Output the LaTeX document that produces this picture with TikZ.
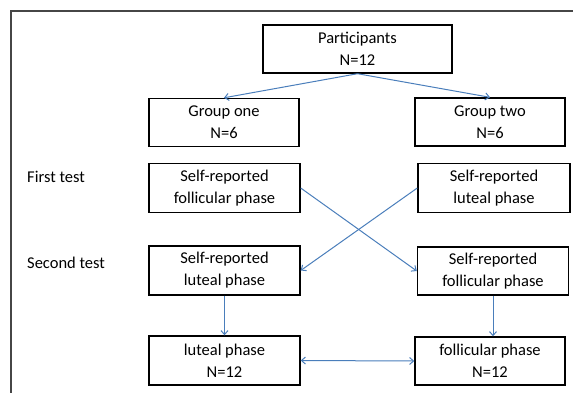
\documentclass[tikz,border=0pt]{standalone}
\usepackage{fontspec}
\setmainfont{Carlito}
\usetikzlibrary{arrows.meta}
\begin{document}
\begin{tikzpicture}[x=1pt,y=-1pt,
  box/.style={draw=black,line width=1.4pt,align=center,inner sep=0pt,
    font=\fontsize{16.5}{22}\selectfont},
  lbl/.style={anchor=west,inner sep=0pt,font=\fontsize{16.5}{22}\selectfont},
  conn/.style={draw={rgb,255:red,74;green,126;blue,187},line width=1pt,
    -{Straight Barb[length=4pt,width=7pt]}},
  dconn/.style={draw={rgb,255:red,74;green,126;blue,187},line width=1pt,
    {Straight Barb[length=4pt,width=7pt]}-{Straight Barb[length=4pt,width=7pt]}}]
\useasboundingbox (0,0) rectangle (573,392);
\draw[line width=1.5pt,draw={rgb,255:red,70;green,70;blue,70}] (11,400) -- (11,11) -- (580,11);
\node[box,minimum width=189pt,minimum height=48pt] (part) at (357.5,49) {Participants\\N=12};
\node[box,minimum width=150pt,minimum height=48pt] (g1) at (224,122.5) {Group one\\N=6};
\node[box,minimum width=150pt,minimum height=48pt] (g2) at (490,122) {Group two\\N=6};
\node[box,minimum width=151pt,minimum height=49pt] (sf) at (224.5,188) {Self-reported\\follicular phase};
\node[box,minimum width=152pt,minimum height=49pt] (sl) at (494,188) {Self-reported\\luteal phase};
\node[box,minimum width=151pt,minimum height=49pt] (l2) at (224.5,270.5) {Self-reported\\luteal phase};
\node[box,minimum width=151pt,minimum height=48pt] (f2) at (493,271) {Self-reported\\follicular phase};
\node[box,minimum width=151pt,minimum height=49pt] (lb) at (224.5,360.5) {luteal phase\\N=12};
\node[box,minimum width=150pt,minimum height=48pt] (fb) at (490,361) {follicular phase\\N=12};
\node[lbl] (t1) at (27,177) {First test};
\node[lbl] (t2) at (27,263) {Second test};
\draw[conn] (part.south) -- (g1.north);
\draw[conn] (part.south) -- (g2.north);
\draw[conn] (sf.east) -- (f2.west);
\draw[conn] (sl.west) -- (l2.east);
\draw[conn] (l2.south) -- (lb.north);
\draw[conn] (f2.south) -- (f2.south |- fb.north);
\draw[dconn] (lb.east) -- (fb.west);
\end{tikzpicture}
\end{document}
